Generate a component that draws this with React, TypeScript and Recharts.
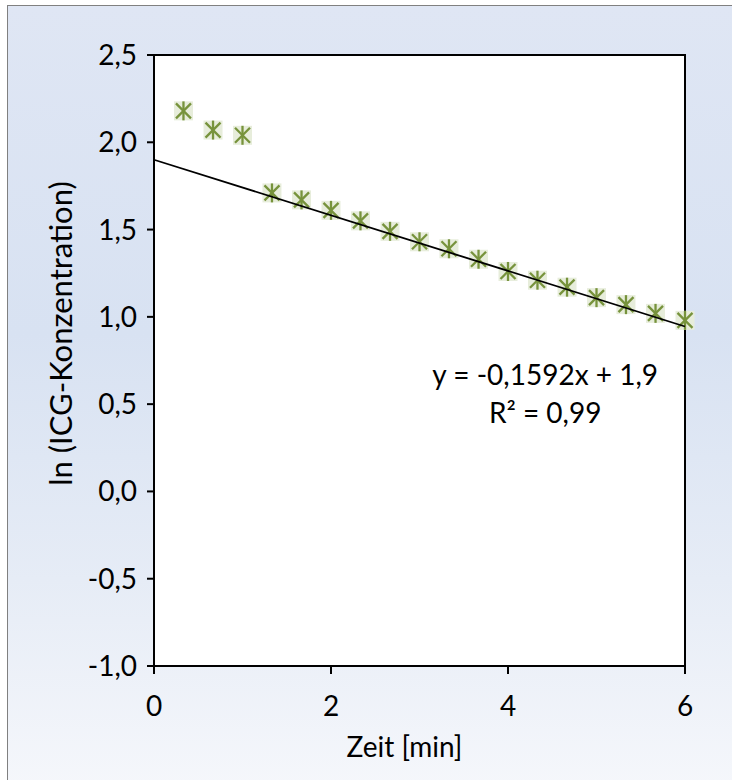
import {
  ReferenceArea,
  ReferenceDot,
  Scatter,
  ScatterChart,
  XAxis,
  YAxis
} from "recharts";

// sampling times in minutes (every 20 s)
const times = [
  0.333, 0.667, 1.0, 1.333, 1.667, 2.0, 2.333, 2.667, 3.0, 3.333, 3.667, 4.0, 4.333, 4.667,
  5.0, 5.333, 5.667, 6.0
];
// ln of the ICG concentration at each time
const lnConc = [
  2.18, 2.07, 2.04, 1.71, 1.67, 1.61, 1.55, 1.49, 1.43, 1.39, 1.33, 1.26, 1.21, 1.17, 1.11,
  1.07, 1.02, 0.98
];

const xTicks = [0, 2, 4, 6];
const yTicks = [-1, -0.5, 0, 0.5, 1, 1.5, 2, 2.5];

// linear fit
const slope = -0.1592;
const intercept = 1.9;
const rSquared = 0.99;
const fitRange = [0, 6];

const FONT = "Lato, 'Open Sans', sans-serif";
const MARKER = "#77933c";
const MARKER_BG = "#e7eddb";

const points = times.map((t, i) => ({ t, v: lnConc[i] }));
const fitLine = fitRange.map((t) => ({ t, v: intercept + slope * t }));

const de = (n: number, digits: number) => n.toFixed(digits).replace(".", ",");
const eqText = `y = ${de(slope, 4)}x + ${de(intercept, 1)}`;
const r2Text = `R² = ${de(rSquared, 2)}`;

function StarMarker(props: any) {
  const { cx, cy } = props;
  const h = 9.5;
  const d = 7.5;
  return (
    <g>
      <rect x={cx - h} y={cy - h} width={h * 2} height={h * 2} fill={MARKER_BG} />
      <g stroke={MARKER} strokeWidth={2.3}>
        <line x1={cx} y1={cy - h} x2={cx} y2={cy + h} />
        <line x1={cx - d} y1={cy - d} x2={cx + d} y2={cy + d} />
        <line x1={cx - d} y1={cy + d} x2={cx + d} y2={cy - d} />
      </g>
    </g>
  );
}

const textStyle = { fontFamily: FONT, fontSize: 28, fill: "#000" };

export default function App() {
  return (
    <div style={{ position: "absolute", left: 0, top: 0, width: 732, height: 780, overflow: "hidden" }}>
      <div
        style={{
          position: "absolute",
          left: 7,
          top: 5,
          width: 760,
          height: 820,
          border: "1px solid #808080",
          background: "linear-gradient(to bottom, #dfe6f4 0%, #d8e2f2 40%, #e6ecf6 70%, #f8f9fc 100%)"
        }}
      />
      <div style={{ position: "absolute", left: 0, top: 0 }}>
        <ScatterChart width={732} height={780} margin={{ top: 55, right: 47, bottom: 14, left: 34 }}>
          <XAxis
            type="number"
            dataKey="t"
            domain={[0, 6]}
            ticks={xTicks}
            height={100}
            tickSize={8}
            tickMargin={22}
            tick={textStyle}
            axisLine={{ stroke: "#000", strokeWidth: 2 }}
            tickLine={{ stroke: "#000", strokeWidth: 2 }}
            label={{
              value: "Zeit [min]",
              position: "insideBottom",
              offset: 9,
              dx: -15,
              style: textStyle
            }}
          />
          <YAxis
            type="number"
            dataKey="v"
            domain={[-1, 2.5]}
            ticks={yTicks}
            width={120}
            tickSize={7}
            tickMargin={10}
            tick={textStyle}
            tickFormatter={(v: number) => de(v, 1)}
            axisLine={{ stroke: "#000", strokeWidth: 2 }}
            tickLine={{ stroke: "#000", strokeWidth: 2 }}
            label={{
              content: ({ viewBox }: any) => {
                const x = viewBox.x + 26;
                const y = viewBox.y + viewBox.height / 2 - 27;
                return (
                  <text
                    x={x}
                    y={y}
                    transform={`rotate(-90, ${x}, ${y})`}
                    textAnchor="middle"
                    dominantBaseline="central"
                    style={{ fontFamily: FONT, fontSize: 31, fill: "#000" }}
                  >
                    ln (ICG-Konzentration)
                  </text>
                );
              }
            }}
          />
          <ReferenceArea x1={0} x2={6} y1={-1} y2={2.5} fill="#fff" fillOpacity={1} stroke="#000" strokeWidth={2} />
          <Scatter data={points} shape={StarMarker} isAnimationActive={false} />
          <Scatter
            data={fitLine}
            line={{ stroke: "#000", strokeWidth: 1.8 }}
            shape={() => <g />}
            isAnimationActive={false}
          />
          <ReferenceDot
            x={4.42}
            y={0.667}
            r={0}
            label={{ value: eqText, position: "center", style: textStyle }}
          />
          <ReferenceDot
            x={4.42}
            y={0.449}
            r={0}
            label={{ value: r2Text, position: "center", style: textStyle }}
          />
        </ScatterChart>
      </div>
    </div>
  );
}
